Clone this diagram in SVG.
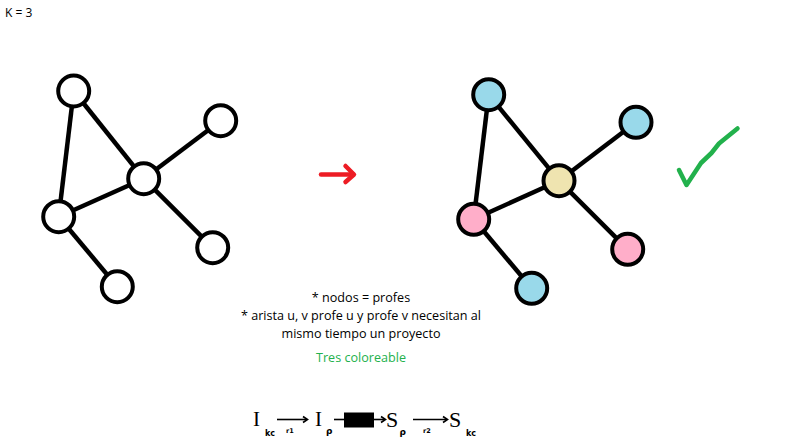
<svg xmlns="http://www.w3.org/2000/svg" width="800" height="444" viewBox="0 0 800 444">
<defs>
<style>
.n{stroke:#000;stroke-width:4;fill:#fff}
.e{stroke:#000;stroke-width:4.5;fill:none}
.b{fill:#99D9EA}.p{fill:#FFAEC9}.y{fill:#EFE4B0}
.t{font-family:"Open Sans","Liberation Sans",sans-serif;font-size:12.6px;fill:#000;text-anchor:middle}
.f{font-family:"Liberation Serif",serif;fill:#000}
.fs{font-family:"DejaVu Sans",sans-serif;font-weight:bold;fill:#000}
.h{stroke:#000;stroke-width:1.6;fill:none}
</style>
</defs>
<rect width="800" height="444" fill="#fff"/>
<text x="5" y="17" font-family="Open Sans, Liberation Sans, sans-serif" font-size="12">K = 3</text>
<g id="connectors">
<g id="left-edges">
<line class="e" x1="73.7" y1="91" x2="58.7" y2="216.7"/>
<line class="e" x1="73.7" y1="91" x2="143.7" y2="178.7"/>
<line class="e" x1="143.7" y1="178.7" x2="220.7" y2="120.7"/>
<line class="e" x1="143.7" y1="178.7" x2="58.7" y2="216.7"/>
<line class="e" x1="143.7" y1="178.7" x2="212.7" y2="247.7"/>
<line class="e" x1="58.7" y1="216.7" x2="117.3" y2="286.7"/>
</g>
<g id="right-edges">
<line class="e" x1="488.7" y1="94.7" x2="473.7" y2="219.3"/>
<line class="e" x1="488.7" y1="94.7" x2="559" y2="180.7"/>
<line class="e" x1="559" y1="180.7" x2="636" y2="122.3"/>
<line class="e" x1="559" y1="180.7" x2="473.7" y2="219.3"/>
<line class="e" x1="559" y1="180.7" x2="627.7" y2="249.3"/>
<line class="e" x1="473.7" y1="219.3" x2="531.7" y2="288.3"/>
</g>
<g id="red-arrow" stroke="#ED1C24" stroke-width="4.5" fill="none" stroke-linecap="round" stroke-linejoin="round">
<line x1="321" y1="174.5" x2="353" y2="174.5"/>
<polyline points="345.5,166 354,174.5 345.5,182"/>
</g>
</g>
<g id="L1"><circle class="n" cx="73.7" cy="91" r="15.5"/></g>
<g id="L2"><circle class="n" cx="220.7" cy="120.7" r="15.5"/></g>
<g id="L3"><circle class="n" cx="143.7" cy="178.7" r="15.5"/></g>
<g id="L4"><circle class="n" cx="58.7" cy="216.7" r="15.5"/></g>
<g id="L5"><circle class="n" cx="212.7" cy="247.7" r="15.5"/></g>
<g id="L6"><circle class="n" cx="117.3" cy="286.7" r="15.5"/></g>
<g id="R1"><circle class="n b" cx="488.7" cy="94.7" r="15.5"/></g>
<g id="R2"><circle class="n b" cx="636" cy="122.3" r="15.5"/></g>
<g id="R3"><circle class="n y" cx="559" cy="180.7" r="15.5"/></g>
<g id="R4"><circle class="n p" cx="473.7" cy="219.3" r="15.5"/></g>
<g id="R5"><circle class="n p" cx="627.7" cy="249.3" r="15.5"/></g>
<g id="R6"><circle class="n b" cx="531.7" cy="288.3" r="15.5"/></g>
<polyline id="check" points="679,170 686.5,185 701,163 711.5,153 719,143.5 737.5,128.5" stroke="#22B14C" stroke-width="4.5" fill="none" stroke-linecap="round" stroke-linejoin="round"/>
<text class="t" x="361" y="302">* nodos = profes</text>
<text class="t" x="361" y="320">* arista u, v profe u y profe v necesitan al</text>
<text class="t" x="361" y="338">mismo tiempo un proyecto</text>
<text class="t" x="361" y="362" style="fill:#22B14C">Tres coloreable</text>
<g id="formula">
<text class="f" x="253" y="425.5" font-size="21">I</text>
<text class="fs" x="265" y="435.5" font-size="8">kc</text>
<line class="h" x1="277" y1="419.5" x2="307" y2="419.5"/>
<polyline class="h" points="303,416.5 307.5,419.5 303,422.5"/>
<text class="fs" x="286" y="432.5" font-size="6.5">r1</text>
<text class="f" x="315" y="425.5" font-size="21">I</text>
<text class="fs" x="326" y="434" font-size="9">ρ</text>
<line class="h" x1="334" y1="419.5" x2="345" y2="419.5"/>
<rect x="344" y="412.5" width="30" height="15" fill="#000"/>
<line class="h" x1="374" y1="419.5" x2="385" y2="419.5"/>
<polyline class="h" points="381,416.5 385.5,419.5 381,422.5"/>
<text class="f" x="386" y="427" font-size="22">S</text>
<text class="fs" x="399.5" y="435" font-size="9">ρ</text>
<line class="h" x1="413" y1="419.5" x2="447" y2="419.5"/>
<polyline class="h" points="443,416.5 447.5,419.5 443,422.5"/>
<text class="fs" x="423" y="432.5" font-size="6.5">r2</text>
<text class="f" x="449" y="427" font-size="22">S</text>
<text class="fs" x="466" y="435.5" font-size="8">kc</text>
</g>
</svg>
